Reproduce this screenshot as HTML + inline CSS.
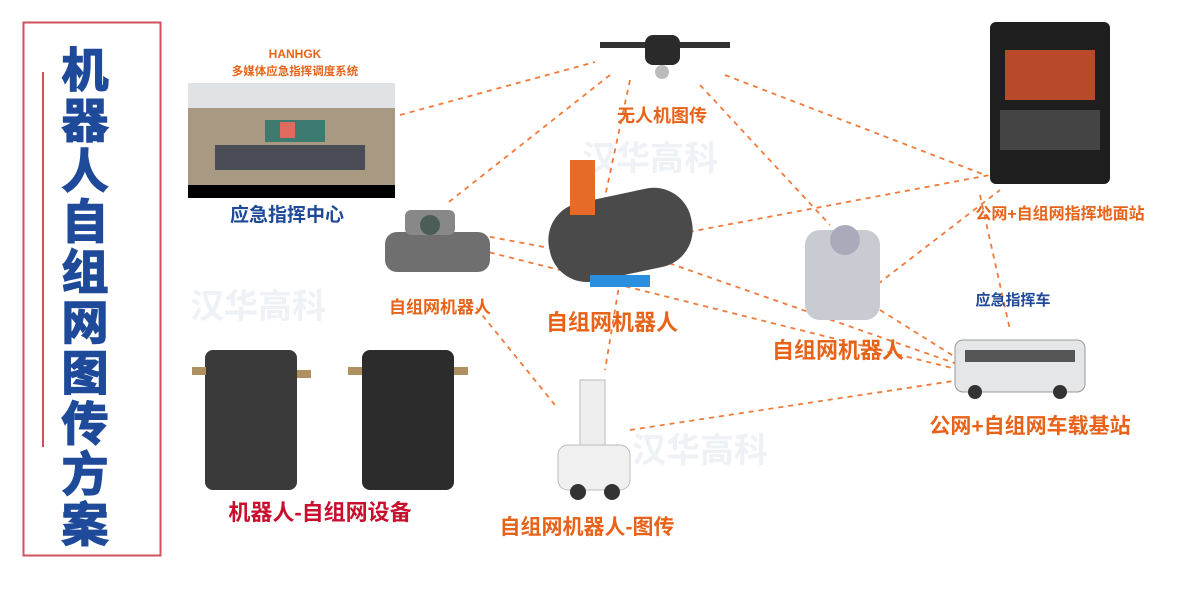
<!DOCTYPE html>
<html><head><meta charset="utf-8"><style>
body{margin:0;background:#fff;}
svg{display:block}
text{font-family:"Liberation Sans","Noto Sans CJK SC",sans-serif;font-weight:bold}
</style></head><body>
<svg width="1200" height="600" viewBox="0 0 1200 600" xmlns="http://www.w3.org/2000/svg">
<rect x="23.5" y="22.5" width="137" height="533" fill="none" stroke="#d0505c" stroke-width="2"/>
<line x1="43" y1="72" x2="43" y2="447" stroke="#d0505c" stroke-width="2"/>
<g fill="#1f4a9a" font-size="47" text-anchor="middle" stroke="#1f4a9a" stroke-width="1.5">
<text x="85" y="87">机</text><text x="85" y="137.5">器</text><text x="85" y="188">人</text>
<text x="85" y="238.5">自</text><text x="85" y="289">组</text><text x="85" y="339.5">网</text>
<text x="85" y="390">图</text><text x="85" y="440.5">传</text><text x="85" y="491">方</text><text x="85" y="541.5">案</text>
</g>
<!-- watermarks -->
<g fill="#eef1f6" font-size="34" text-anchor="middle"><text x="258" y="318">汉华高科</text><text x="650" y="170">汉华高科</text><text x="700" y="462">汉华高科</text></g>
<!-- dashed lines -->
<g stroke="#f07a3a" stroke-width="1.8" stroke-dasharray="5,5" fill="none">
<line x1="400" y1="115" x2="595" y2="62"/>
<line x1="610" y1="75" x2="445" y2="205"/>
<line x1="630" y1="80" x2="600" y2="220"/>
<line x1="700" y1="85" x2="830" y2="225"/>
<line x1="725" y1="75" x2="985" y2="175"/>
<line x1="480" y1="235" x2="560" y2="250"/>
<line x1="620" y1="245" x2="990" y2="175"/>
<line x1="660" y1="260" x2="960" y2="365"/>
<line x1="480" y1="250" x2="960" y2="370"/>
<line x1="870" y1="290" x2="1000" y2="190"/>
<line x1="880" y1="310" x2="960" y2="360"/>
<line x1="620" y1="280" x2="605" y2="370"/>
<line x1="470" y1="300" x2="555" y2="405"/>
<line x1="630" y1="430" x2="960" y2="380"/>
<line x1="980" y1="195" x2="1010" y2="330"/>
</g>
<!-- control center -->
<rect x="188" y="83" width="207" height="102" fill="#a89a82"/>
<rect x="188" y="83" width="207" height="25" fill="#dfe3e6"/>
<rect x="265" y="120" width="60" height="22" fill="#3d7a70"/><rect x="280" y="122" width="15" height="16" fill="#e06a5e"/>
<rect x="215" y="145" width="150" height="25" fill="#4a4d55"/>
<rect x="188" y="185" width="207" height="13" fill="#000"/>
<text x="295" y="58" font-size="12" fill="#e8631a" text-anchor="middle">HANHGK</text>
<text x="295" y="75" font-size="11.5" fill="#e8631a" text-anchor="middle">多媒体应急指挥调度系统</text>
<text x="287" y="221" font-size="19" fill="#1f4a9a" text-anchor="middle">应急指挥中心</text>
<!-- drone -->
<rect x="600" y="42" width="130" height="6" fill="#333"/><rect x="645" y="35" width="35" height="30" rx="8" fill="#2a2a2a"/><circle cx="662" cy="72" r="7" fill="#bbb"/>
<text x="662" y="122" font-size="18" fill="#e8631a" text-anchor="middle">无人机图传</text>
<!-- ground station -->
<rect x="990" y="22" width="120" height="162" rx="6" fill="#1e1e1e"/><rect x="1005" y="50" width="90" height="50" fill="#b84a2a"/><rect x="1000" y="110" width="100" height="40" fill="#444"/>
<text x="1060" y="219" font-size="16" fill="#e8631a" text-anchor="middle">公网+自组网指挥地面站</text>
<!-- tank -->
<rect x="385" y="232" width="105" height="40" rx="12" fill="#6f6f6f"/><rect x="405" y="210" width="50" height="25" rx="6" fill="#888"/><circle cx="430" cy="225" r="10" fill="#4b5e55"/>
<text x="440" y="313" font-size="17" fill="#e8631a" text-anchor="middle">自组网机器人</text>
<!-- tracked -->
<rect x="548" y="195" width="145" height="80" rx="38" fill="#4a4a4a" transform="rotate(-12 620 235)"/><rect x="570" y="160" width="25" height="55" fill="#e86a2a"/><rect x="590" y="275" width="60" height="12" fill="#2b8fe0"/>
<text x="612" y="330" font-size="22" fill="#e8631a" text-anchor="middle">自组网机器人</text>
<!-- bot -->
<rect x="805" y="230" width="75" height="90" rx="15" fill="#c8ccd2"/><circle cx="845" cy="240" r="15" fill="#aab"/>
<text x="838" y="358" font-size="22" fill="#e8631a" text-anchor="middle">自组网机器人</text>
<!-- vehicle -->
<text x="1013" y="305" font-size="15" fill="#1f4a9a" text-anchor="middle">应急指挥车</text>
<rect x="955" y="340" width="130" height="52" rx="8" fill="#e4e6e8" stroke="#999"/><rect x="965" y="350" width="110" height="12" fill="#555"/><circle cx="975" cy="392" r="7" fill="#333"/><circle cx="1060" cy="392" r="7" fill="#333"/>
<text x="1030" y="433" font-size="21" fill="#e8631a" text-anchor="middle">公网+自组网车载基站</text>
<!-- devices -->
<rect x="205" y="350" width="92" height="140" rx="8" fill="#3a3a3a"/><rect x="362" y="350" width="92" height="140" rx="8" fill="#2c2c2c"/>
<rect x="192" y="367" width="14" height="8" fill="#b09060"/><rect x="297" y="370" width="14" height="8" fill="#b09060"/><rect x="348" y="367" width="14" height="8" fill="#b09060"/><rect x="454" y="367" width="14" height="8" fill="#b09060"/>
<text x="320" y="520" font-size="22" fill="#c8102e" text-anchor="middle">机器人-自组网设备</text>
<!-- patrol robot -->
<rect x="580" y="380" width="25" height="70" fill="#eee" stroke="#bbb"/><rect x="558" y="445" width="72" height="45" rx="10" fill="#f0f0f0" stroke="#bbb"/><circle cx="578" cy="492" r="8" fill="#333"/><circle cx="612" cy="492" r="8" fill="#333"/>
<text x="587" y="534" font-size="21" fill="#e8631a" text-anchor="middle">自组网机器人-图传</text>
</svg>
</body></html>
